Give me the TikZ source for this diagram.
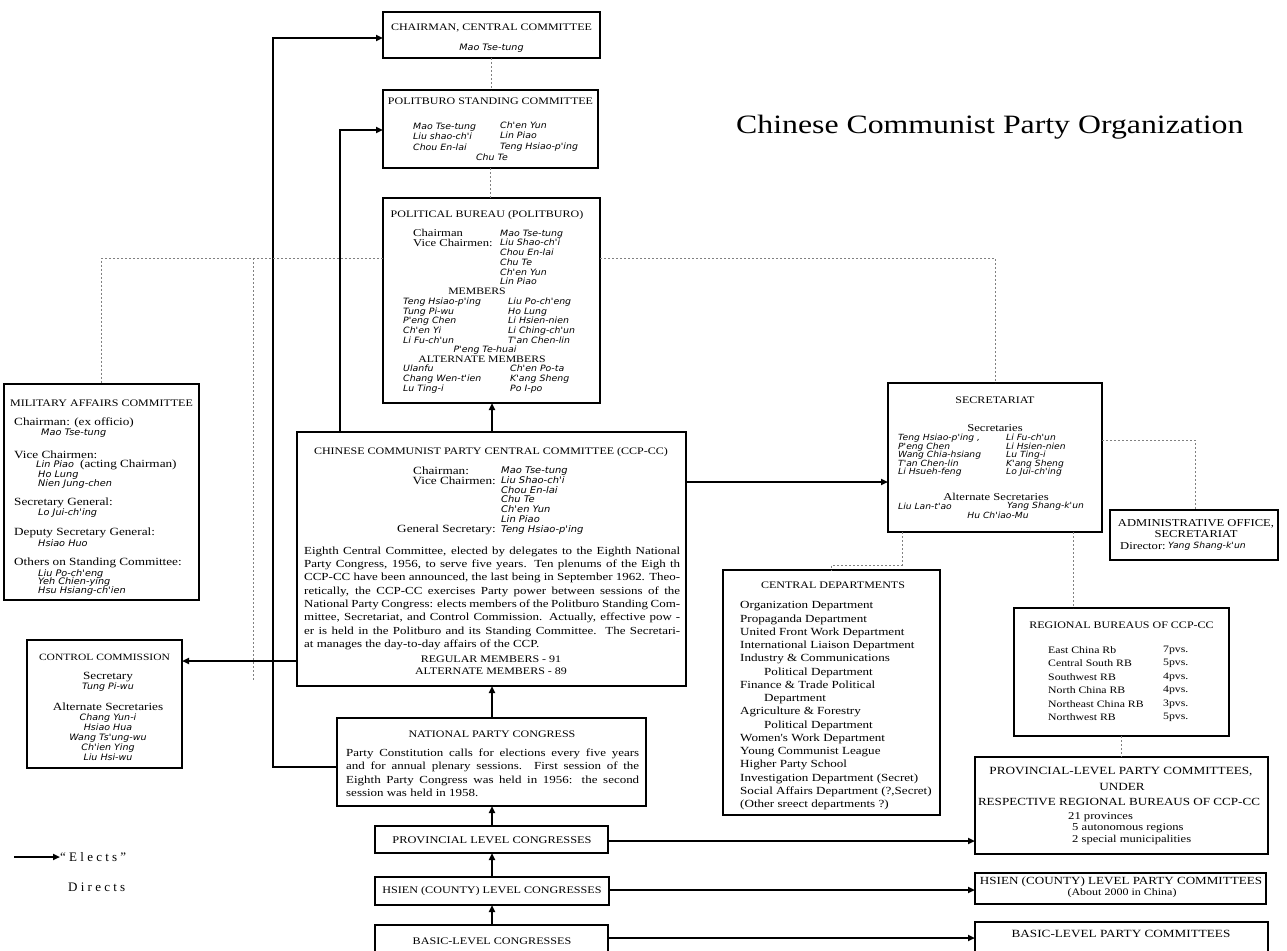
\documentclass[tikz,border=0pt]{standalone}
\usepackage{fontspec}
\setmainfont{Liberation Serif}
\newfontfamily\srf{Liberation Serif}[FakeStretch=1.2]
\newfontfamily\nmf{DejaVu Sans}[FakeStretch=1.08]
\newfontfamily\legfont{Liberation Serif}[LetterSpace=25]
\newcommand\mytls{\lineskiplimit=-20pt\relax}
\usetikzlibrary{arrows.meta}
\tikzset{
  box/.style={draw, line width=1.2pt, inner sep=0pt, outer sep=0pt, anchor=north west},
  ttl/.style={font=\srf\fontsize{#1}{12}\selectfont\mytls, inner sep=0pt, align=center},
  ttl/.default=10,
  sr/.style 2 args={font=\srf\fontsize{#1}{#2}\selectfont\mytls, inner sep=0pt, align=left},
  nm/.style 2 args={font=\nmf\itshape\fontsize{#1}{#2}\selectfont\mytls, inner sep=0pt, align=left},
  elect/.style={line width=1.8pt, -{Triangle[length=7pt,width=6pt]}},
  direct/.style={line width=0.7pt, dash pattern=on 2pt off 2pt, black!50},
}
\begin{document}
\begin{tikzpicture}[x=1pt,y=-1pt]
\useasboundingbox (0,0) rectangle (1287,950);
\fill[white] (0,0) rectangle (1287,950);

% ---------- reference coordinates
\coordinate (x273) at (273,0);
\coordinate (x340) at (340,0);
\coordinate (x492) at (492,0);
\coordinate (x995) at (995,0);
\coordinate (x1195) at (1195,0);
\coordinate (x902) at (902,0);
\coordinate (x1073) at (1073,0);
\coordinate (y38) at (0,38);
\coordinate (y130) at (0,130);
\coordinate (y482) at (0,482);
\coordinate (y661) at (0,661);
\coordinate (y767) at (0,767);
\coordinate (y841) at (0,841);
\coordinate (y890) at (0,890);
\coordinate (y938) at (0,938);
\coordinate (y258) at (0,258);
\coordinate (y440) at (0,440);
\coordinate (y565) at (0,565);
\coordinate (dA) at (253,258);
\coordinate (dB) at (253,680);

% ---------- boxes
\node[box, minimum width=217pt, minimum height=46pt] (chair) at (383,12) {};
\node[box, minimum width=215pt, minimum height=78pt] (stand) at (383,90) {};
\node[box, minimum width=217pt, minimum height=205pt] (pb) at (383,198) {};
\node[box, minimum width=389pt, minimum height=254pt] (ccp) at (297,432) {};
\node[box, minimum width=309pt, minimum height=88pt] (npc) at (337,718) {};
\node[box, minimum width=233pt, minimum height=27pt] (pcong) at (375,826) {};
\node[box, minimum width=234pt, minimum height=28pt] (hcong) at (375,877) {};
\node[box, minimum width=233pt, minimum height=45pt] (bcong) at (375,925) {};
\node[box, minimum width=195pt, minimum height=216pt] (mil) at (4,384) {};
\node[box, minimum width=155pt, minimum height=128pt] (ctrl) at (27,640) {};
\node[box, minimum width=214pt, minimum height=149pt] (sec) at (888,383) {};
\node[box, minimum width=168pt, minimum height=50pt] (adm) at (1110,510) {};
\node[box, minimum width=217pt, minimum height=245pt] (cd) at (723,570) {};
\node[box, minimum width=215pt, minimum height=128pt] (rb) at (1014,608) {};
\node[box, minimum width=293pt, minimum height=97pt] (pcom) at (975,757) {};
\node[box, minimum width=291pt, minimum height=31pt] (hcom) at (975,873) {};
\node[box, minimum width=293pt, minimum height=45pt] (bcom) at (975,922) {};

% ---------- title
\node[font=\srf\fontsize{26.5}{30}\selectfont, anchor=west, inner sep=0pt] (title) at (736,127) {Chinese Communist Party Organization};

% ---------- chairman
\node[ttl] (chairT) at (491.5,28) {CHAIRMAN, CENTRAL COMMITTEE};
\node[nm={8.9}{10}] (chairN) at (491.5,48) {Mao Tse-tung};

% ---------- standing committee
\node[ttl] (standT) at (490.5,101) {POLITBURO STANDING COMMITTEE};
\node[nm={8.7}{10.5}, anchor=west] (standL) at (413,136.5) {Mao Tse-tung\\Liu shao-ch'i\\Chou En-lai};
\node[nm={8.7}{10.5}, anchor=west] (standR) at (500,136.5) {Ch'en Yun\\Lin Piao\\Teng Hsiao-p'ing};
\node[nm={8.7}{10}] (standC) at (492,157) {Chu Te};

% ---------- politburo
\node[ttl] (pbT) at (487,215) {POLITICAL BUREAU (POLITBURO)};
\node[sr={10.5}{9.75}, anchor=west] (pbL) at (413,237.9) {Chairman\\Vice Chairmen:};
\node[nm={8.7}{9.75}, anchor=west] (pbN) at (500,257.4) {Mao Tse-tung\\Liu Shao-ch'i\\Chou En-lai\\Chu Te\\Ch'en Yun\\Lin Piao};
\node[ttl=9.8] (pbM) at (477,291.5) {MEMBERS};
\node[nm={8.7}{9.75}, anchor=west] (pbML) at (403,320.75) {Teng Hsiao-p'ing\\Tung Pi-wu\\P'eng Chen\\Ch'en Yi\\Li Fu-ch'un};
\node[nm={8.7}{9.75}, anchor=west] (pbMR) at (508,320.75) {Liu Po-ch'eng\\Ho Lung\\Li Hsien-nien\\Li Ching-ch'un\\T'an Chen-lin};
\node[nm={8.7}{9.75}] (pbP) at (485,350) {P'eng Te-huai};
\node[ttl=9.8] (pbA) at (482,359.75) {ALTERNATE MEMBERS};
\node[nm={8.7}{9.75}, anchor=west] (pbAL) at (403,379.25) {Ulanfu\\Chang Wen-t'ien\\Lu Ting-i};
\node[nm={8.7}{9.75}, anchor=west] (pbAR) at (510,379.25) {Ch'en Po-ta\\K'ang Sheng\\Po I-po};

% ---------- CCP-CC
\node[ttl] (ccpT) at (491,452) {CHINESE COMMUNIST PARTY CENTRAL COMMITTEE (CCP-CC)};
\node[sr={11}{10}, anchor=west] (ccpC) at (413,471) {Chairman:};
\node[sr={11}{10}, anchor=east] (ccpV) at (496,480.8) {Vice Chairmen:};
\node[sr={11}{10}, anchor=east] (ccpG) at (496,529.8) {General Secretary:};
\node[nm={9.2}{9.8}, anchor=west] (ccpN) at (501,500.4) {Mao Tse-tung\\Liu Shao-ch'i\\Chou En-lai\\Chu Te\\Ch'en Yun\\Lin Piao\\Teng Hsiao-p'ing};
\node[sr={10.8}{13.3}, anchor=north west] (ccpP) at (304,546.5) {%
\hbox to 376pt{Eighth Central Committee, elected by delegates to the Eighth National}\\
\hbox to 376pt{Party Congress, 1956, to serve five years. Ten plenums of the Eigh th}\\
\hbox to 376pt{CCP-CC have been announced, the last being in September 1962. Theo-}\\
\hbox to 376pt{retically, the CCP-CC exercises Party power between sessions of the}\\
\hbox to 376pt{National Party Congress: elects members of the Politburo Standing Com-}\\
\hbox to 376pt{mittee, Secretariat, and Control Commission. Actually, effective pow -}\\
\hbox to 376pt{er is held in the Politburo and its Standing Committee.\ \ The Secretari-}\\
at manages the day-to-day affairs of the CCP.};
\node[ttl] (ccpM) at (491,665.5) {REGULAR MEMBERS - 91\\ALTERNATE MEMBERS - 89};

% ---------- National Party Congress and lower congresses
\node[ttl] (npcT) at (492,734) {NATIONAL PARTY CONGRESS};
\node[sr={10.8}{13.4}, anchor=north west] (npcP) at (346,748.5) {%
\hbox to 293pt{Party Constitution calls for elections every five years}\\
\hbox to 293pt{and for annual plenary sessions. First session of the}\\
\hbox to 293pt{Eighth Party Congress was held in 1956: the second}\\
session was held in 1958.};
\node[ttl=10.3] (pcongT) at (492,840) {PROVINCIAL LEVEL CONGRESSES};
\node[ttl=10.1] (hcongT) at (492,891) {HSIEN (COUNTY) LEVEL CONGRESSES};
\node[ttl=10.1] (bcongT) at (492,941) {BASIC-LEVEL CONGRESSES};

% ---------- Military Affairs Committee
\node[ttl] (milT) at (101.5,403) {MILITARY AFFAIRS COMMITTEE};
\node[sr={11}{10}, anchor=west] (m1) at (14,423) {Chairman: (ex officio)};
\node[nm={9}{9}, anchor=west] (m2) at (41,433) {Mao Tse-tung};
\node[sr={11}{10}, anchor=west] (m3) at (14,455) {Vice Chairmen:};
\node[nm={9}{9}, anchor=west] (m4) at (36,464.5) {Lin Piao};
\node[sr={11}{10}, anchor=west] (m4b) at (80,464.5) {(acting Chairman)};
\node[nm={9}{9}, anchor=west] (m5) at (38,480) {Ho Lung\\Nien Jung-chen};
\node[sr={11}{10}, anchor=west] (m6) at (14,503) {Secretary General:};
\node[nm={9}{9}, anchor=west] (m7) at (38,513) {Lo Jui-ch'ing};
\node[sr={11}{10}, anchor=west] (m8) at (14,533) {Deputy Secretary General:};
\node[nm={9}{9}, anchor=west] (m9) at (38,543) {Hsiao Huo};
\node[sr={11}{10}, anchor=west] (m10) at (14,563) {Others on Standing Committee:};
\node[nm={9}{8.5}, anchor=west] (m11) at (38,582.5) {Liu Po-ch'eng\\Yeh Chien-ying\\Hsu Hsiang-ch'ien};

% ---------- Control Commission
\node[ttl=9.6] (ctrlT) at (104.5,657) {CONTROL COMMISSION};
\node[sr={11}{10}, align=center] (ctrlS) at (108,677) {Secretary};
\node[nm={8.8}{10}] (ctrlN) at (108,687) {Tung Pi-wu};
\node[sr={11}{10}, align=center] (ctrlA) at (108,707) {Alternate Secretaries};
\node[nm={8.8}{10}, align=center] (ctrlAN) at (108,737.5) {Chang Yun-i\\Hsiao Hua\\Wang Ts'ung-wu\\Ch'ien Ying\\Liu Hsi-wu};

% ---------- Secretariat
\node[ttl] (secT) at (995,400) {SECRETARIAT};
\node[sr={10.5}{10}, align=center] (secS) at (995,428) {Secretaries};
\node[nm={8.5}{8.5}, anchor=west] (secL) at (898,455.5) {Teng Hsiao-p'ing ,\\P'eng Chen\\Wang Chia-hsiang\\T'an Chen-lin\\Li Hsueh-feng};
\node[nm={8.5}{8.5}, anchor=west] (secR) at (1006,455.5) {Li Fu-ch'un\\Li Hsien-nien\\Lu Ting-i\\K'ang Sheng\\Lo Jui-ch'ing};
\node[sr={10.5}{10}, align=center] (secA) at (996,496.5) {Alternate Secretaries};
\node[nm={8.5}{8.5}, anchor=west] (secA1) at (898,506.5) {Liu Lan-t'ao};
\node[nm={8.5}{8.5}, anchor=west] (secA2) at (1007,506.5) {Yang Shang-k'un};
\node[nm={8.5}{8.5}] (secA3) at (998,515.5) {Hu Ch'iao-Mu};

% ---------- Administrative office
\node[ttl=10.5] (admT) at (1196,524) {ADMINISTRATIVE OFFICE,};
\node[ttl=10.5] (admT2) at (1196,534.5) {SECRETARIAT};
\node[sr={10.5}{10}, anchor=west] (admD) at (1120,546) {Director:};
\node[nm={8.6}{10}, anchor=west] (admN) at (1168,546) {Yang Shang-k'un};

% ---------- Central departments
\node[ttl] (cdT) at (833,585.5) {CENTRAL DEPARTMENTS};
\node[sr={10.9}{13.25}, anchor=north west] (cdL) at (740,601.5) {Organization Department\\
Propaganda Department\\
United Front Work Department\\
International Liaison Department\\
Industry \& Communications\\
\hspace*{24pt}Political Department\\
Finance \& Trade Political\\
\hspace*{24pt}Department\\
Agriculture \& Forestry\\
\hspace*{24pt}Political Department\\
Women's Work Department\\
Young Communist League\\
Higher Party School\\
Investigation Department (Secret)\\
Social Affairs Department (?,Secret)\\
(Other sreect departments ?)};

% ---------- Regional bureaus
\node[ttl] (rbT) at (1121.5,625) {REGIONAL BUREAUS OF CCP-CC};
\node[sr={9.8}{13.5}, anchor=west] (rbL) at (1048,683.75) {East China Rb\\Central South RB\\Southwest RB\\North China RB\\Northeast China RB\\Northwest RB};
\node[sr={9.8}{13.5}, anchor=west] (rbR) at (1163,683.75) {7pvs.\\5pvs.\\4pvs.\\4pvs.\\3pvs.\\5pvs.};

% ---------- Provincial / Hsien / Basic committees
\node[ttl=11] (pcomT1) at (1121,772) {PROVINCIAL-LEVEL PARTY COMMITTEES,};
\node[ttl=11] (pcomT2) at (1122,787) {UNDER};
\node[ttl=10.9] (pcomT3) at (1119,802) {RESPECTIVE REGIONAL BUREAUS OF CCP-CC};
\node[sr={10.5}{11.5}, anchor=west] (pcomA) at (1068,817) {21 provinces};
\node[sr={10.5}{11.5}, anchor=west] (pcomB) at (1072,834.25) {5 autonomous regions\\2 special municipalities};
\node[ttl=10.9] (hcomT) at (1121,882) {HSIEN (COUNTY) LEVEL PARTY COMMITTEES};
\node[ttl=10] (hcomS) at (1122,893.5) {(About 2000 in China)};
\node[ttl=11] (bcomT) at (1121,934) {BASIC-LEVEL PARTY COMMITTEES};

% ---------- "Elects" connectors
\draw[elect] (npc.west |- y767) -- (x273 |- y767) |- (chair.west |- y38);
\draw[elect] (ccp.north -| x340) |- (stand.west |- y130);
\draw[elect] (ccp.north -| x492) -- (pb.south -| x492);
\draw[elect] (ccp.east |- y482) -- (sec.west |- y482);
\draw[elect] (ccp.west |- y661) -- (ctrl.east |- y661);
\draw[elect] (npc.north -| x492) -- (ccp.south -| x492);
\draw[elect] (pcong.north -| x492) -- (npc.south -| x492);
\draw[elect] (hcong.north -| x492) -- (pcong.south -| x492);
\draw[elect] (bcong.north -| x492) -- (hcong.south -| x492);
\draw[elect] (pcong.east |- y841) -- (pcom.west |- y841);
\draw[elect] (hcong.east |- y890) -- (hcom.west |- y890);
\draw[elect] (bcong.east |- y938) -- (bcom.west |- y938);

% ---------- "Directs" connectors
\draw[direct] (chair.south) -- (chair.south |- stand.north);
\draw[direct] (stand.south) -- (stand.south |- pb.north);
\draw[direct] (pb.west |- y258) -| (mil.north);
\draw[direct] (dA) -- (dB);
\draw[direct] (pb.east |- y258) -| (sec.north -| x995);
\draw[direct] (sec.east |- y440) -| (adm.north -| x1195);
\draw[direct] (sec.south -| x902) |- (cd.north |- y565) -- (cd.north);
\draw[direct] (sec.south -| x1073) -- (rb.north -| x1073);
\draw[direct] (rb.south) -- (pcom.north);

% ---------- legend
\coordinate (lg) at (14,857);
\node[anchor=west, inner sep=0pt, font=\legfont\fontsize{13}{15}\selectfont] (legE) at (60,857) {“Elects”};
\draw[elect] (lg) -- (legE.west);
\node[anchor=west, inner sep=0pt, font=\legfont\fontsize{13}{15}\selectfont] (legD) at (68,887) {Directs};
\end{tikzpicture}
\end{document}
